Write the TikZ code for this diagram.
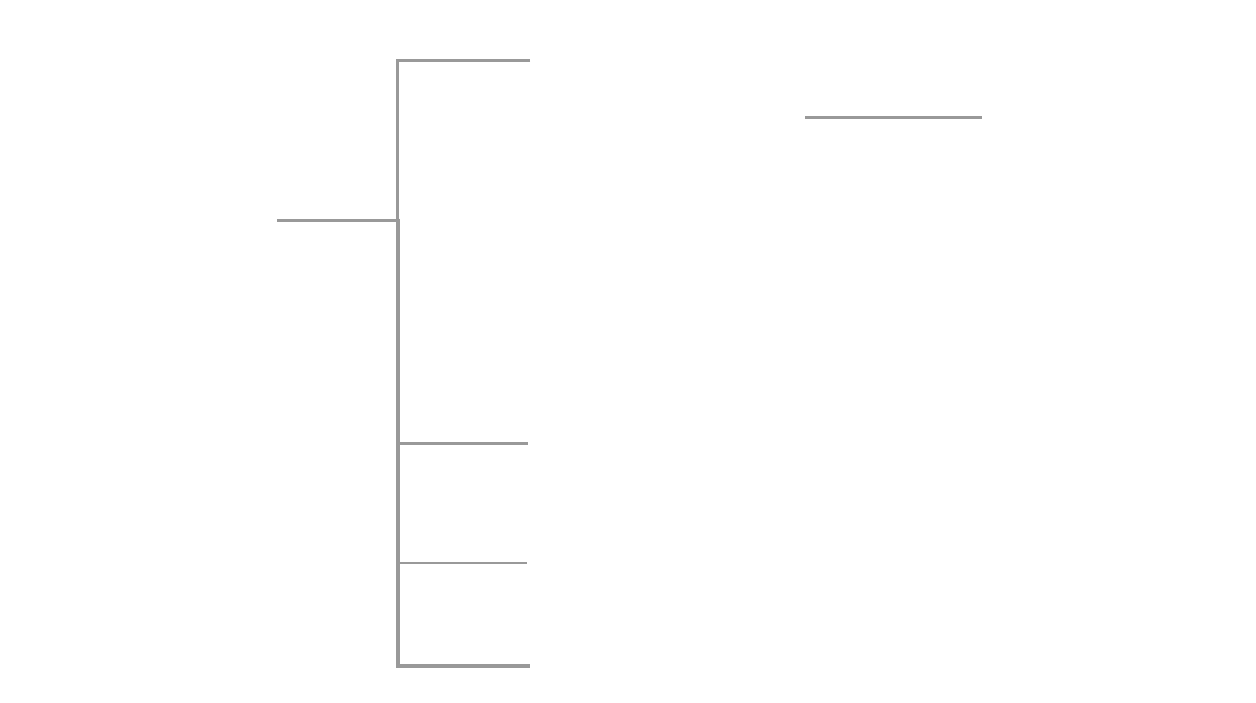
\documentclass[tikz,border=0pt]{standalone}
\definecolor{linegray}{HTML}{999999}
\begin{document}
\begin{tikzpicture}[x=1pt,y=-1pt,
  branch/.style={draw=linegray,line width=3pt,line cap=butt},
  thinbranch/.style={draw=linegray,line width=2pt,line cap=butt}]
\useasboundingbox (0,0) rectangle (1256,702);
\coordinate (root) at (277,220);
\coordinate (hub) at (397,220);
\coordinate (topcorner) at (397,60);
\coordinate (topend) at (530,60);
\coordinate (lowcorner) at (398,666);
\coordinate (b1s) at (398,443);
\coordinate (b1e) at (528,443);
\coordinate (b2s) at (398,563);
\coordinate (b2e) at (527,563);
\coordinate (b3e) at (530,666);
\coordinate (isoS) at (805,117);
\coordinate (isoE) at (982,117);
\draw[branch] (root) -- (hub);
\draw[branch] (topend) -- (topcorner) -- (hub);
\draw[branch,line width=3.5pt] (398,218.5) -- (lowcorner) -- (b3e);
\draw[branch] (b1s) -- (b1e);
\draw[thinbranch] (b2s) -- (b2e);
\draw[branch] (isoS) -- (isoE);
\end{tikzpicture}
\end{document}
